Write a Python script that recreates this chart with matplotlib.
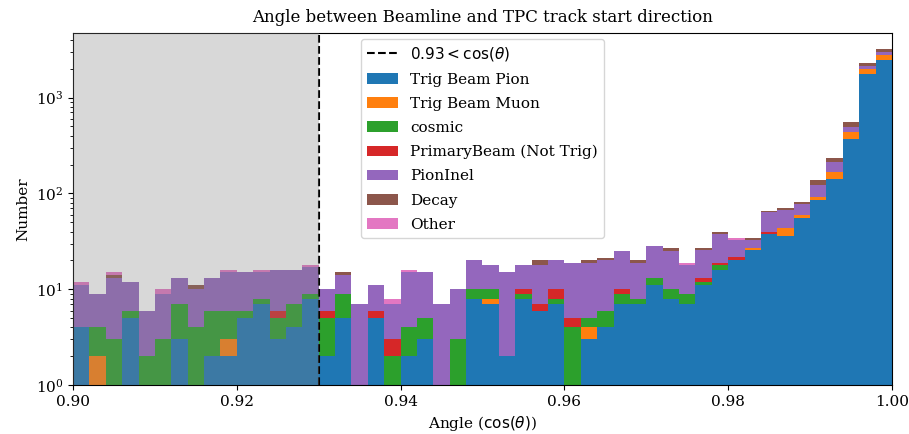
import numpy as np
import matplotlib
matplotlib.use("Agg")
import matplotlib.pyplot as plt

plt.rcParams["font.family"] = ["DejaVu Serif"]

# Binning of cos(theta) between beamline and TPC track start direction
bin_lo, bin_hi, n_bins = 0.90, 1.00, 50
cut_value = 0.93

categories = ["Trig Beam Pion", "Trig Beam Muon", "cosmic",
              "PrimaryBeam (Not Trig)", "PionInel", "Decay", "Other"]

# Entries per bin for each category
trig_beam_pion = [4, 0, 0, 5, 0, 0, 3, 0, 2, 2, 5, 7, 3, 4, 8,
                  2, 5, 0, 5, 0, 2, 3, 0, 0, 8, 7, 2, 8, 6, 7,
                  0, 3, 4, 7, 7, 11, 8, 7, 11, 16, 20, 26, 38, 36, 55,
                  85, 143, 373, 1780, 2490]
trig_beam_muon = [0, 2, 0, 0, 0, 0, 0, 0, 0, 1, 0, 0, 0, 0, 0,
                  0, 0, 0, 0, 0, 0, 0, 0, 0, 0, 1, 0, 0, 0, 0,
                  0, 1, 0, 0, 0, 0, 0, 0, 0, 0, 0, 1, 0, 8, 4,
                  7, 25, 65, 190, 270]
cosmic = [0, 2, 3, 1, 2, 3, 4, 4, 4, 3, 1, 1, 2, 3, 1,
          3, 4, 0, 0, 2, 2, 2, 0, 3, 2, 2, 0, 1, 0, 1,
          4, 1, 2, 2, 1, 2, 2, 2, 1, 2, 0, 0, 0, 0, 0,
          0, 0, 0, 0, 0]
primary_beam = [0, 0, 0, 0, 0, 0, 0, 0, 0, 0, 0, 0, 1, 0, 0,
                1, 0, 0, 1, 1, 0, 0, 0, 0, 0, 0, 0, 1, 1, 2,
                1, 0, 0, 1, 0, 0, 0, 0, 1, 1, 2, 0, 2, 0, 1,
                0, 1, 0, 0, 0]
pion_inel = [7, 5, 10, 6, 4, 6, 6, 6, 7, 9, 9, 7, 10, 9, 8,
             4, 5, 7, 5, 4, 11, 10, 7, 7, 10, 8, 13, 8, 11, 10,
             14, 14, 14, 15, 11, 15, 15, 9, 13, 19, 11, 6, 24, 23, 17,
             30, 45, 57, 180, 240]
decay = [0, 0, 1, 0, 0, 0, 0, 1, 0, 0, 0, 0, 0, 0, 0,
         0, 1, 0, 0, 0, 0, 0, 0, 0, 0, 0, 0, 0, 2, 0,
         0, 1, 1, 0, 1, 0, 2, 0, 1, 2, 0, 1, 2, 3, 4,
         15, 23, 65, 150, 190]
other = [1, 0, 1, 0, 0, 1, 0, 0, 0, 1, 0, 1, 0, 0, 1,
         0, 0, 0, 0, 1, 1, 0, 0, 0, 0, 0, 0, 0, 0, 0,
         0, 0, 0, 0, 0, 0, 0, 1, 0, 0, 1, 0, 0, 0, 0,
         0, 0, 0, 0, 0]

series = [trig_beam_pion, trig_beam_muon, cosmic, primary_beam,
          pion_inel, decay, other]
colors = ["#1f77b4", "#ff7f0e", "#2ca02c", "#d62728",
          "#9467bd", "#8c564b", "#e377c2"]

edges = np.linspace(bin_lo, bin_hi, n_bins + 1)
centers = 0.5 * (edges[:-1] + edges[1:])

fig = plt.figure(figsize=(9.09, 4.34), dpi=100)
ax = fig.add_axes([0.0803, 0.1125, 0.901, 0.811])

ax.axvline(cut_value, color="black", linestyle="--", linewidth=1.5,
           label=r"$0.93 < \cos(\theta)$")
ax.hist([centers] * len(series), bins=edges,
        weights=[np.asarray(s, dtype=float) for s in series],
        stacked=True, histtype="bar", rwidth=1.0, color=colors,
        label=categories, log=True)
ax.axvspan(bin_lo, cut_value, color="grey", alpha=0.3, zorder=3, lw=0)

ax.set_xlim(bin_lo, bin_hi)
ax.set_ylim(1, 4700)
ax.set_xticks([0.90, 0.92, 0.94, 0.96, 0.98, 1.00])

ax.set_title("Angle between Beamline and TPC track start direction",
             fontsize=12, pad=8)
ax.set_xlabel(r"Angle ($\cos(\theta)$)", fontsize=11)
ax.set_ylabel("Number", fontsize=11)
ax.tick_params(labelsize=11)

ax.legend(loc="upper center", fontsize=11, labelspacing=0.66,
          borderaxespad=0.35)

fig.savefig("out.png", dpi=100)
